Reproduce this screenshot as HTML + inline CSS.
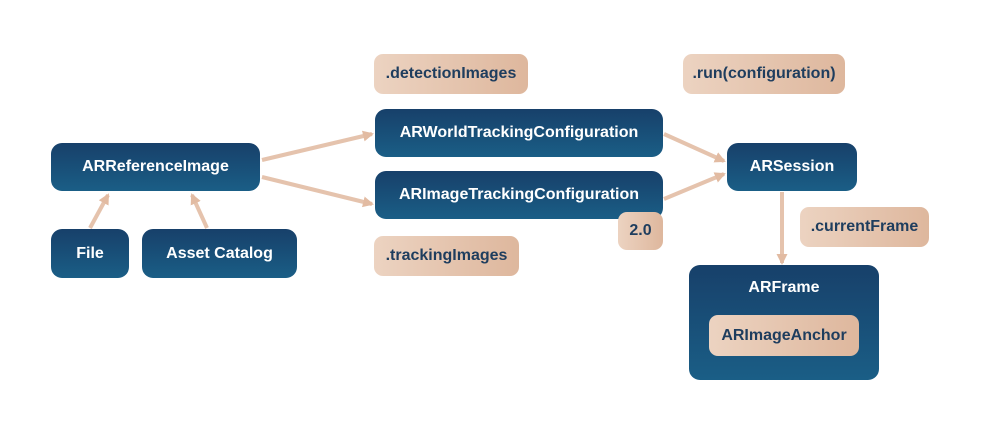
<!DOCTYPE html>
<html><head><style>
body{margin:0;width:1000px;height:426px;background:#fff;position:relative;overflow:hidden;font-family:"Liberation Sans",sans-serif;font-weight:bold}
.b{position:absolute;border-radius:11px;background:linear-gradient(180deg,#17406a,#1a5e86);color:#fff;display:flex;align-items:center;justify-content:center;font-size:16px}
.p{position:absolute;border-radius:9px;background:linear-gradient(90deg,#ecd3c1,#deb79d);color:#1e3d5e;display:flex;align-items:center;justify-content:center;font-size:16px}
svg{position:absolute;left:0;top:0}
</style></head><body>
<svg width="1000" height="426"><defs><marker id="a" markerWidth="11" markerHeight="11" refX="9" refY="5.5" orient="auto" markerUnits="userSpaceOnUse"><path d="M0,0L11,5.5L0,11z" fill="#e2bba2"/></marker></defs>
<g stroke="#e5c3ad" stroke-width="4" fill="none" marker-end="url(#a)">
<line x1="262" y1="160" x2="372" y2="134"/>
<line x1="262" y1="177" x2="372" y2="204"/>
<line x1="90" y1="228" x2="108" y2="195"/>
<line x1="207" y1="228" x2="192" y2="195"/>
<line x1="664" y1="134" x2="724" y2="161"/>
<line x1="664" y1="199" x2="724" y2="174"/>
<line x1="782" y1="192" x2="782" y2="263"/>
</g></svg>
<div class="b" style="left:51px;top:143px;width:209px;height:48px">ARReferenceImage</div>
<div class="b" style="left:51px;top:229px;width:78px;height:49px">File</div>
<div class="b" style="left:142px;top:229px;width:155px;height:49px">Asset Catalog</div>
<div class="p" style="left:374px;top:54px;width:154px;height:40px">.detectionImages</div>
<div class="b" style="left:375px;top:109px;width:288px;height:48px">ARWorldTrackingConfiguration</div>
<div class="b" style="left:375px;top:171px;width:288px;height:48px">ARImageTrackingConfiguration</div>
<div class="p" style="left:618px;top:212px;width:45px;height:38px">2.0</div>
<div class="p" style="left:374px;top:236px;width:145px;height:40px">.trackingImages</div>
<div class="p" style="left:683px;top:54px;width:162px;height:40px">.run(configuration)</div>
<div class="b" style="left:727px;top:143px;width:130px;height:48px">ARSession</div>
<div class="p" style="left:800px;top:207px;width:129px;height:40px">.currentFrame</div>
<div class="b" style="left:689px;top:265px;width:190px;height:115px;align-items:flex-start;padding-top:14px;box-sizing:border-box">ARFrame</div>
<div class="p" style="left:709px;top:315px;width:150px;height:41px">ARImageAnchor</div>
</body></html>
